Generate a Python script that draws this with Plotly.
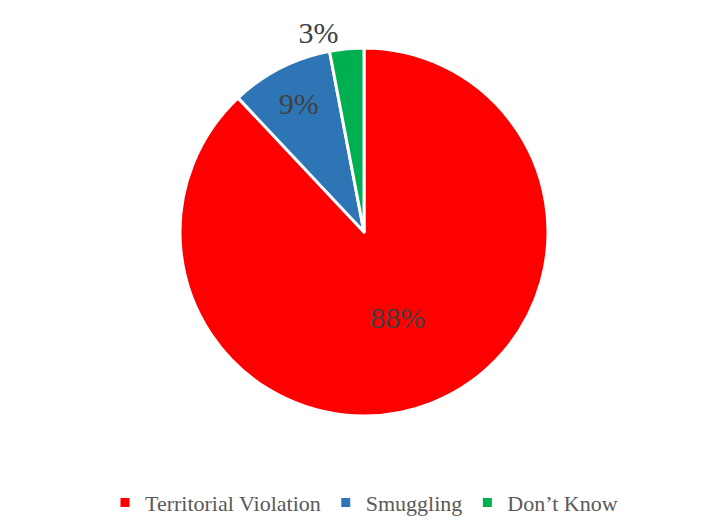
import plotly.graph_objects as go

categories = ["Territorial Violation", "Smuggling", "Don\u2019t Know"]
shares = [88, 9, 3]
slice_colors = ["#FF0000", "#2E75B6", "#00B050"]
label_positions = ["inside", "inside", "outside"]

fig = go.Figure(
    go.Pie(
        labels=categories,
        values=shares,
        sort=False,
        direction="clockwise",
        rotation=0,
        marker=dict(colors=slice_colors, line=dict(color="white", width=3)),
        texttemplate="%{value}%",
        textposition=label_positions,
        insidetextorientation="horizontal",
        textfont=dict(family="Liberation Serif", size=30, color="#404040"),
        hovertemplate="%{label}: %{value}%<extra></extra>",
    )
)

fig.update_layout(
    width=728,
    height=521,
    margin=dict(l=0, r=4, t=48, b=105),
    paper_bgcolor="white",
    plot_bgcolor="white",
    showlegend=True,
    legend=dict(
        orientation="h",
        x=0.5,
        xanchor="center",
        xref="container",
        yref="container",
        y=0.035,
        yanchor="middle",
        font=dict(family="Liberation Serif", size=22, color="#595959"),
    ),
)

fig.write_html("out.html")
